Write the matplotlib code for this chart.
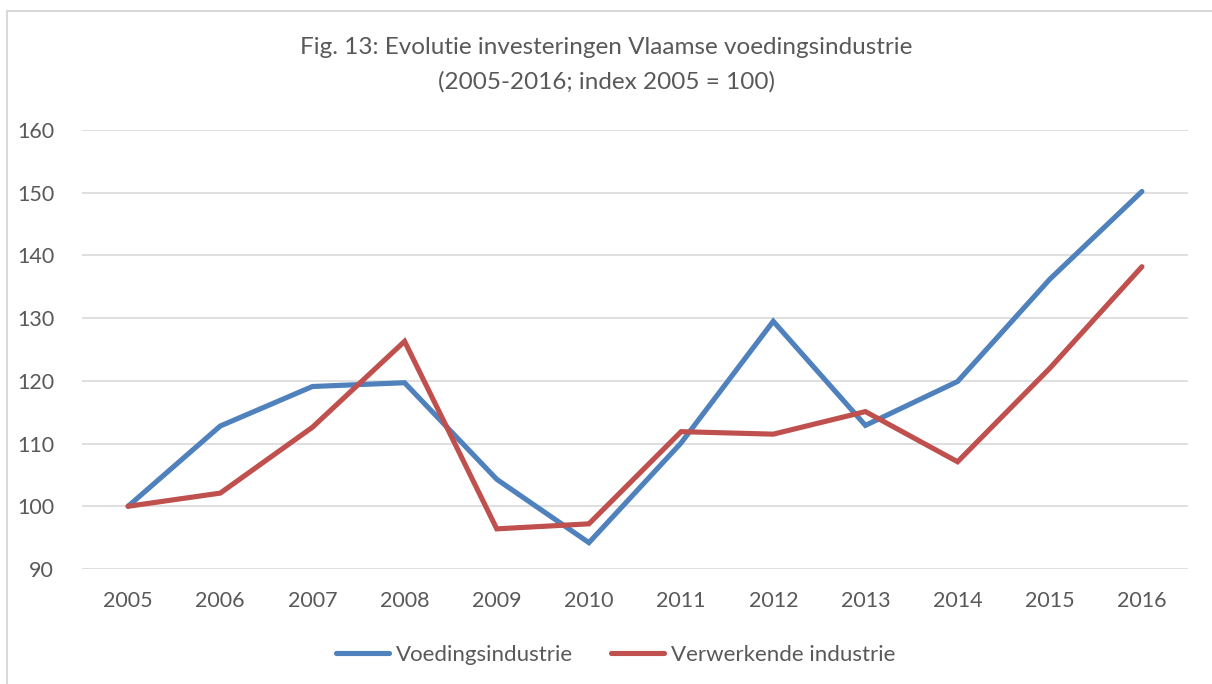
import matplotlib
matplotlib.use("Agg")
import matplotlib.pyplot as plt
from matplotlib.patches import Rectangle

# data
years = ["2005", "2006", "2007", "2008", "2009", "2010",
         "2011", "2012", "2013", "2014", "2015", "2016"]
voeding = [100, 112.8, 119.1, 119.7, 104.3, 94.2,
           110.1, 129.5, 112.9, 119.9, 136.2, 150.2]
verwerkend = [100, 102.1, 112.6, 126.3, 96.4, 97.2,
              111.9, 111.5, 115.1, 107.1, 122.0, 138.2]
yticks = [90, 100, 110, 120, 130, 140, 150, 160]

plt.rcParams['font.family'] = ['Lato', 'DejaVu Sans']
txt_color = '#595959'

W, H = 1212, 684
fig = plt.figure(figsize=(W / 100, H / 100), dpi=100)

# outer chart frame (only left and top edges are visible in the crop)
fig.patches.append(Rectangle((7 / W, -0.1), 1.2, (H - 11) / H + 0.1,
                             transform=fig.transFigure, fill=False,
                             edgecolor='#D9D9D9', linewidth=1.5))

ax = fig.add_axes([82 / W, 1 - 569 / H, (1188 - 82) / W, (569 - 130) / H])

x = range(len(years))
ax.plot(x, voeding, color='#4F81BD', linewidth=3.7,
        solid_capstyle='round', solid_joinstyle='miter', label='Voedingsindustrie')
ax.plot(x, verwerkend, color='#C0504D', linewidth=3.7,
        solid_capstyle='round', solid_joinstyle='miter', label='Verwerkende industrie')

ax.set_xlim(-0.5, len(years) - 0.5)
ax.set_ylim(90, 160)
ax.set_yticks(yticks)
ax.set_xticks(list(x))
ax.set_xticklabels(years)
ax.grid(axis='y', color='#D9D9D9', linewidth=1.2)
ax.set_axisbelow(True)
for s in ax.spines.values():
    s.set_visible(False)
ax.tick_params(axis='both', length=0, labelsize=15.5, labelcolor=txt_color)
ax.tick_params(axis='y', pad=20)
ax.tick_params(axis='x', pad=16)

fig.text(0.5, 1 - 47 / H, "Fig. 13: Evolutie investeringen Vlaamse voedingsindustrie",
         ha='center', va='center', fontsize=17.5, color=txt_color)
fig.text(0.5, 1 - 82 / H, "(2005-2016; index 2005 = 100)",
         ha='center', va='center', fontsize=17.5, color=txt_color)

leg = fig.legend(loc='center', bbox_to_anchor=(0.508, 1 - 655 / H), ncol=2,
                 frameon=False, fontsize=16, handlelength=2.4,
                 handletextpad=0.3, columnspacing=1.7)
for t in leg.get_texts():
    t.set_color(txt_color)

fig.savefig("out.png", dpi=100)
